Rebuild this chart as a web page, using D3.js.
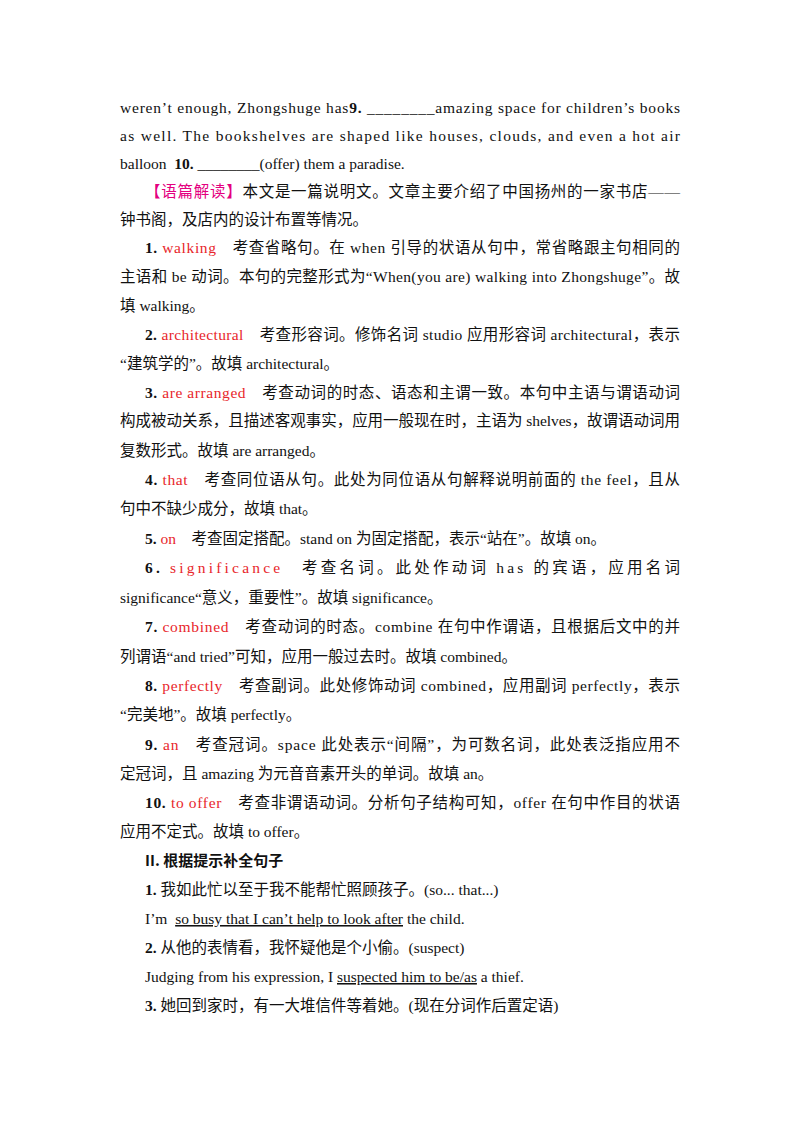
<!DOCTYPE html>
<html><head><meta charset="utf-8">
<script src="https://cdn.jsdelivr.net/npm/d3@7"></script>
<style>body{margin:0;background:#fff}</style>
</head><body>
<svg width="800" height="1132"></svg>
<script>
var RED = "#e8262b", MAG = "#e4007f";

// each line: [x, y, justify, segments]; segment: [text, style] (b=bold, r=red, m=magenta, u=underline, h=heading)
var lines = [
  [120,108,1,[["weren’t enough, Zhongshuge has"],["9.","b"],[" ________amazing space for children’s books"]]],
  [120,136,1,[["as well. The bookshelves are shaped like houses, clouds, and even a hot air"]]],
  [120,164,0,[["balloon  "],["10.","b"],[" ________(offer) them a paradise."]]],
  [145,192,1,[["【语篇解读】","m"],["本文是一篇说明文。文章主要介绍了中国扬州的一家书店——"]]],
  [120,220,0,[["钟书阁，及店内的设计布置等情况。"]]],
  [145,248,1,[["1.","b"],[" walking","r"],["　考查省略句。在 when 引导的状语从句中，常省略跟主句相同的"]]],
  [120,277,1,[["主语和 be 动词。本句的完整形式为“When(you are) walking into Zhongshuge”。故"]]],
  [120,306,0,[["填 walking。"]]],
  [145,335,1,[["2.","b"],[" architectural","r"],["　考查形容词。修饰名词 studio 应用形容词 architectural，表示"]]],
  [120,364,0,[["“建筑学的”。故填 architectural。"]]],
  [145,393,1,[["3.","b"],[" are arranged","r"],["　考查动词的时态、语态和主谓一致。本句中主语与谓语动词"]]],
  [120,421,1,[["构成被动关系，且描述客观事实，应用一般现在时，主语为 shelves，故谓语动词用"]]],
  [120,451,0,[["复数形式。故填 are arranged。"]]],
  [145,480,1,[["4.","b"],[" that","r"],["　考查同位语从句。此处为同位语从句解释说明前面的 the feel，且从"]]],
  [120,509,0,[["句中不缺少成分，故填 that。"]]],
  [145,539,0,[["5.","b"],[" on","r"],["　考查固定搭配。stand on 为固定搭配，表示“站在”。故填 on。"]]],
  [145,568,1,[["6.","b"],[" significance","r"],["　考查名词。此处作动词 has 的宾语，应用名词"]]],
  [120,598,0,[["significance“意义，重要性”。故填 significance。"]]],
  [145,627,1,[["7.","b"],[" combined","r"],["　考查动词的时态。combine 在句中作谓语，且根据后文中的并"]]],
  [120,657,0,[["列谓语“and tried”可知，应用一般过去时。故填 combined。"]]],
  [145,686,1,[["8.","b"],[" perfectly","r"],["　考查副词。此处修饰动词 combined，应用副词 perfectly，表示"]]],
  [120,715,0,[["“完美地”。故填 perfectly。"]]],
  [145,745,1,[["9.","b"],[" an","r"],["　考查冠词。space 此处表示“间隔”，为可数名词，此处表泛指应用不"]]],
  [120,774,0,[["定冠词，且 amazing 为元音音素开头的单词。故填 an。"]]],
  [145,803,1,[["10.","b"],[" to offer","r"],["　考查非谓语动词。分析句子结构可知，offer 在句中作目的状语"]]],
  [120,832,0,[["应用不定式。故填 to offer。"]]],
  [145,861,0,[["II. 根据提示补全句子","h"]]],
  [145,890,0,[["1.","b"],[" 我如此忙以至于我不能帮忙照顾孩子。(so... that...)"]]],
  [145,919,0,[["I’m  "],["so busy that I can’t help to look after","u"],[" the child."]]],
  [145,948,0,[["2.","b"],[" 从他的表情看，我怀疑他是个小偷。(suspect)"]]],
  [145,977,0,[["Judging from his expression, I "],["suspected him to be/as","u"],[" a thief."]]],
  [145,1006,0,[["3.","b"],[" 她回到家时，有一大堆信件等着她。(现在分词作后置定语)"]]]
];

var RIGHT = 680;
var svg = d3.select("svg");

lines.forEach(function (l) {
  var t = svg.append("text")
    .attr("x", l[0]).attr("y", l[1] + 5)
    .style("font-family", "'Liberation Serif','Noto Sans CJK SC',serif")
    .style("font-size", "15.5px")
    .style("fill", "#111")
    .attr("xml:space", "preserve");
  l[3].forEach(function (s) {
    var sp = t.append("tspan").text(s[0]);
    var st = s[1] || "";
    if (st == "b") sp.style("font-weight", "bold");
    if (st == "r") sp.style("fill", RED);
    if (st == "m") sp.style("fill", MAG);
    if (st == "u") sp.style("text-decoration", "underline");
    if (st == "h") sp.style("font-family", "'Noto Sans CJK SC',sans-serif").style("font-size", "15px").style("font-weight", "bold");
  });
  if (l[2]) {
    t.attr("textLength", RIGHT - l[0]).attr("lengthAdjust", "spacing");
  }
});
</script>
</body></html>
